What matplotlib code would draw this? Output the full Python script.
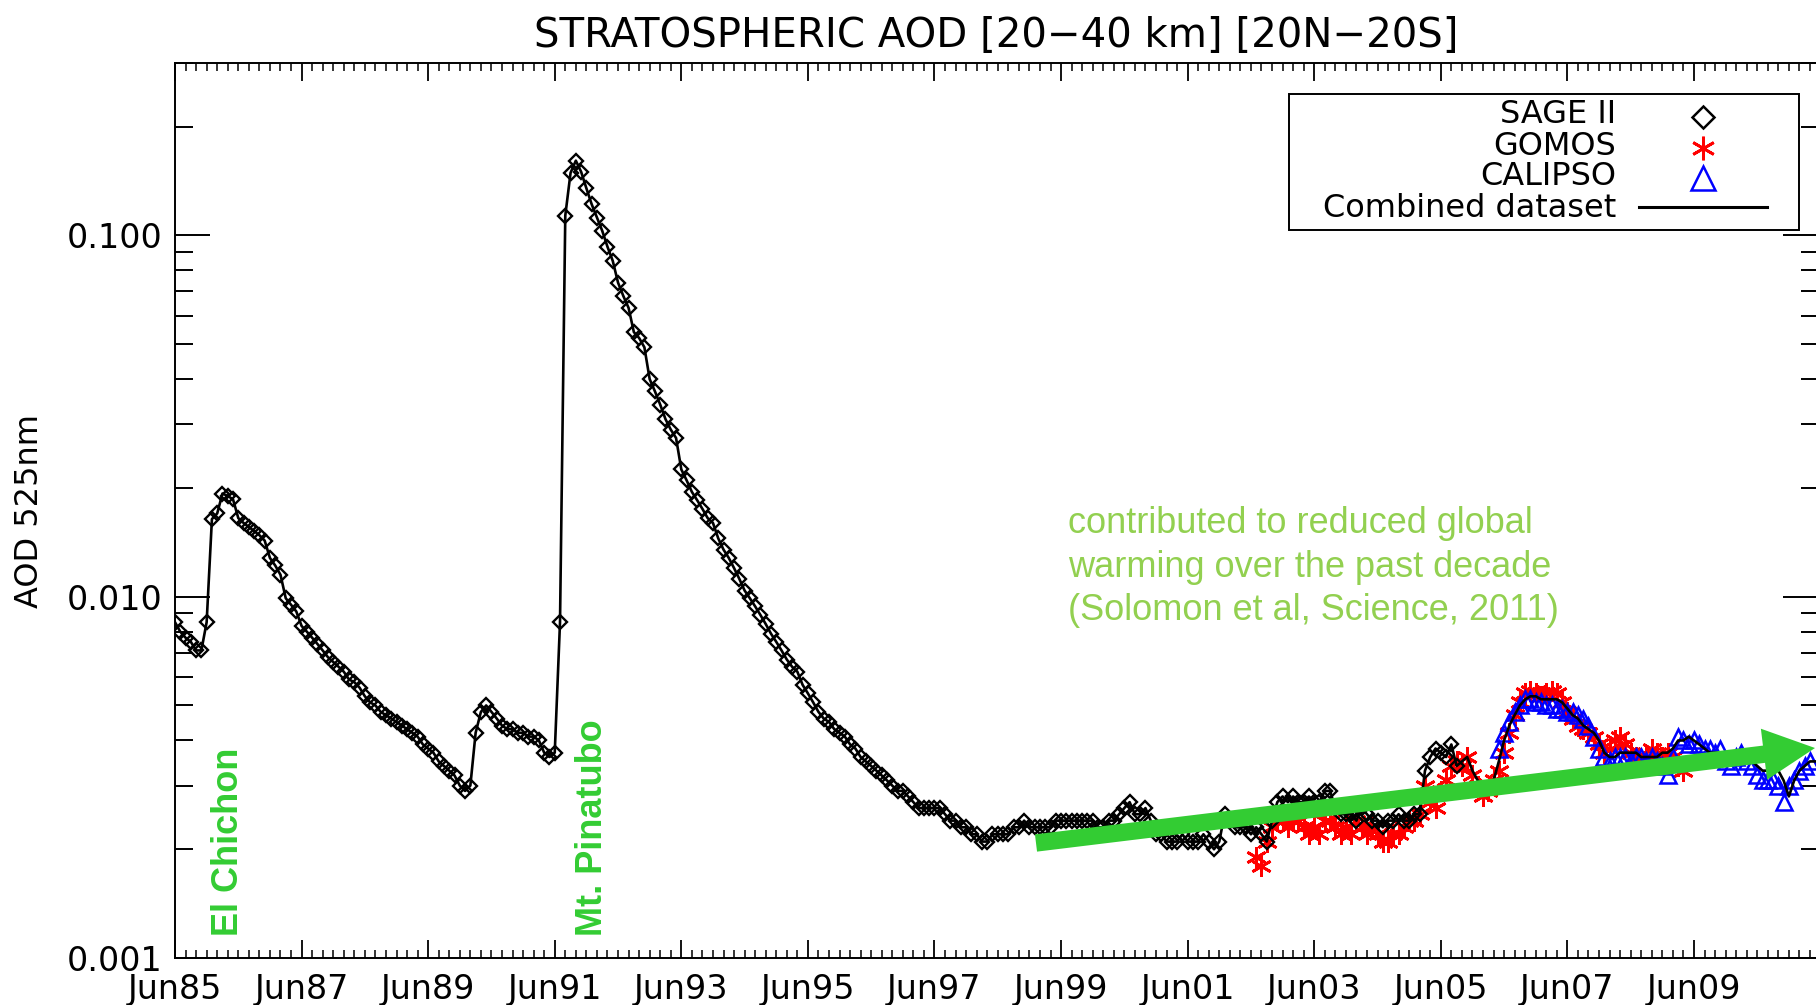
import numpy as np
import matplotlib
matplotlib.use("Agg")
import matplotlib.pyplot as plt
from matplotlib.ticker import FixedLocator, FixedFormatter, LogLocator, NullFormatter
from matplotlib.patches import Rectangle

# ---------------- data (monthly, index 0 = Jun 1985) ----------------
start_year = 1985 + 5/12.0          # Jun 1985

sage_start = 0
sage = [
    0.0085, 0.0080, 0.0077, 0.0075, 0.0071, 0.0071, 0.0085, 0.0164, 0.0170, 0.0193, 0.0190, 0.0186,
    0.0165, 0.0160, 0.0156, 0.0152, 0.0148, 0.0143, 0.0128, 0.0122, 0.0115, 0.0099, 0.0095, 0.0091,
    0.0083, 0.0080, 0.0077, 0.0074, 0.0071, 0.0068, 0.0066, 0.0064, 0.0062, 0.0059, 0.0058, 0.0056,
    0.0053, 0.0051, 0.0050, 0.0048, 0.0047, 0.0046, 0.0045, 0.0044, 0.0043, 0.0042, 0.0041, 0.0039,
    0.0038, 0.0037, 0.0035, 0.0034, 0.0033, 0.0032, 0.0030, 0.0029, 0.0030, 0.0042, 0.0048, 0.0050,
    0.0048, 0.0046, 0.0044, 0.0043, 0.0043, 0.0042, 0.0042, 0.0041, 0.0041, 0.0040, 0.0037, 0.0036,
    0.0037, 0.0085, 0.1135, 0.149, 0.161, 0.150, 0.135, 0.122, 0.112, 0.103, 0.093, 0.085,
    0.074, 0.068, 0.063, 0.054, 0.052, 0.049, 0.040, 0.037, 0.034, 0.031, 0.029, 0.0275,
    0.0225, 0.021, 0.0195, 0.0185, 0.0175, 0.0165, 0.0160, 0.0145, 0.0135, 0.0128, 0.0120, 0.0112,
    0.0104, 0.0099, 0.0094, 0.0089, 0.0084, 0.0079, 0.0075, 0.0071, 0.0067, 0.0064, 0.0062, 0.0057,
    0.0054, 0.0051, 0.0048, 0.0046, 0.0045, 0.0043, 0.0042, 0.0041, 0.0039, 0.0038, 0.0036, 0.0035,
    0.0034, 0.0033, 0.0032, 0.0031, 0.0030, 0.0029, 0.0029, 0.0028, 0.0027, 0.0026, 0.0026, 0.0026,
    0.0026, 0.0026, 0.0025, 0.0024, 0.0024, 0.0023, 0.0023, 0.0022, 0.0022, 0.0021, 0.0021, 0.0022,
    0.0022, 0.0022, 0.0022, 0.0023, 0.0023, 0.0024, 0.0023, 0.0023, 0.0023, 0.0023, 0.0023, 0.0024,
    0.0024, 0.0024, 0.0024, 0.0024, 0.0024, 0.0024, 0.0024, 0.0023, 0.0023, 0.0024, 0.0024, 0.0025,
    0.0026, 0.0027, 0.0025, 0.0025, 0.0026, 0.0024, 0.0022, 0.0022, 0.0021, 0.0021, 0.0021, 0.0022,
    0.0021, 0.0021, 0.0021, 0.0022, 0.0021, 0.0020, 0.0021, 0.0025, 0.0024, 0.0023, 0.0023, 0.0023,
    0.0022, 0.0023, 0.0022, 0.0021, 0.0024, 0.0027, 0.0028, 0.0027, 0.0028, 0.0027, 0.0027, 0.0028,
    0.0027, 0.0027, 0.0029, 0.0029, 0.0026, 0.0025, 0.0025, 0.0025, 0.0024, 0.0026, 0.0025, 0.0024,
    0.0024, 0.0023, 0.0024, 0.0024, 0.0025, 0.0024, 0.0024, 0.0025, 0.0025, 0.0033, 0.0036, 0.0038,
    0.0037, 0.0036, 0.0039, 0.0034,
]

gomos_start = 205
gomos = [
    0.0019, 0.0018, 0.0021, 0.0023, 0.0024, 0.0024, 0.0023, 0.0024, 0.0024, 0.0023, 0.0022, 0.0023,
    0.0022, 0.0024, 0.0024, 0.0023, 0.0022, 0.0023, 0.0022, 0.0024, 0.0023, 0.0022, 0.0023, 0.0022,
    0.0021, 0.0021, 0.0022, 0.0022, 0.0023, 0.0024, 0.0024, 0.0025, 0.0030, 0.0027, 0.0026, 0.0029,
    0.0031, 0.0034, 0.0035, 0.0034, 0.0036, 0.0032, 0.0030, 0.0028, 0.0029, 0.0031, 0.0033, 0.0037,
    0.0042, 0.0047, 0.0051, 0.0054, 0.0055, 0.0054, 0.0053, 0.0054, 0.0055, 0.0054, 0.0051, 0.0048,
    0.0046, 0.0044, 0.0043, 0.0042, 0.0041, 0.0039, 0.0037, 0.0038, 0.0040, 0.0041, 0.0039, 0.0037,
    0.0036, 0.0034, 0.0036, 0.0038, 0.0037, 0.0036, 0.0037, 0.0036, 0.0034, 0.0033,
]

calipso_start = 251
calipso = [
    0.0038, 0.0042, 0.0045, 0.0048, 0.0050, 0.0052, 0.0052, 0.0051, 0.0051, 0.0050, 0.0050, 0.0049,
    0.0049, 0.0048, 0.0048, 0.0047, 0.0046, 0.0044, 0.0041, 0.0038, 0.0036, 0.0035, 0.0036, 0.0036,
    0.0036, 0.0035, 0.0036, 0.0036, 0.0035, 0.0036, 0.0035, 0.0034, 0.0032, 0.0036, 0.0041, 0.0040,
    0.0039, 0.0040, 0.0039, 0.0038, 0.0038, 0.0037, 0.0038, 0.0035, 0.0034, 0.0036, 0.0037, 0.0035,
    0.0034, 0.0032, 0.0031, 0.0031, 0.0031, 0.0030, 0.0027, 0.0030, 0.0031, 0.0033, 0.0034, 0.0035,
]

# combined dataset after the end of SAGE II
combined_after = [
    0.0035, 0.0036, 0.0033, 0.0031, 0.0030, 0.0030, 0.0031, 0.0035, 0.0040, 0.0044, 0.0047, 0.0050,
    0.0052, 0.0053, 0.0053, 0.0052, 0.0052, 0.0052, 0.0052, 0.0051, 0.0049, 0.0047, 0.0046, 0.0044,
    0.0043, 0.0042, 0.0040, 0.0037, 0.0036, 0.0036, 0.0037, 0.0037, 0.0037, 0.0037, 0.0036, 0.0036,
    0.0036, 0.0036, 0.0037, 0.0037, 0.0038, 0.0040, 0.0040, 0.0041, 0.0040, 0.0039, 0.0038, 0.0037,
    0.0037, 0.0037, 0.0037, 0.0036, 0.0036, 0.0036, 0.0036, 0.0035, 0.0034, 0.0033, 0.0033, 0.0033,
    0.0033, 0.0031, 0.0028, 0.0031, 0.0033, 0.0034, 0.0035, 0.0035,
]

xtick_labels = ["Jun85", "Jun87", "Jun89", "Jun91", "Jun93", "Jun95", "Jun97",
                "Jun99", "Jun01", "Jun03", "Jun05", "Jun07", "Jun09"]
ytick_values = [0.001, 0.01, 0.1]
ytick_labels = ["0.001", "0.010", "0.100"]
legend_labels = ["SAGE II", "GOMOS", "CALIPSO", "Combined dataset"]


def month_times(first_index, n):
    return start_year + (first_index + np.arange(n)) / 12.0


t_sage = month_times(sage_start, len(sage))
t_gomos = month_times(gomos_start, len(gomos))
t_cal = month_times(calipso_start, len(calipso))
combined = list(sage) + list(combined_after)
t_comb = month_times(0, len(combined))

# ---------------- figure ----------------
W, H = 1816, 1005
fig = plt.figure(figsize=(W / 100, H / 100), dpi=100)
ax_l, ax_r, ax_t, ax_b = 175, 1818, 63, 958
ax = fig.add_axes([ax_l / W, 1 - ax_b / H, (ax_r - ax_l) / W, (ax_b - ax_t) / H])
ax.set_yscale("log")
ax.set_ylim(0.001, 0.3)
ax.set_xlim(start_year, start_year + (ax_r - ax_l) / 63.29)

ax.plot(t_gomos, gomos, ls="none", marker=(6, 2, 0), ms=15, mew=2.0,
        color="#ff0000", zorder=2)
ax.plot(t_cal, calipso, ls="none", marker="^", ms=11, mfc="none", mec="#0000ff",
        mew=1.8, zorder=3)
ax.plot(t_sage, sage, ls="none", marker="D", ms=7, mfc="none", mec="black",
        mew=1.7, zorder=4)
ax.plot(t_comb, combined, "-", color="black", lw=1.9, zorder=5)

# ticks
ax.xaxis.set_major_locator(FixedLocator(start_year + 2 * np.arange(len(xtick_labels))))
ax.xaxis.set_major_formatter(FixedFormatter(xtick_labels))
ax.xaxis.set_minor_locator(FixedLocator(start_year + np.arange(0, 160) / 6.0))
ax.yaxis.set_major_locator(FixedLocator(ytick_values))
ax.yaxis.set_major_formatter(FixedFormatter(ytick_labels))
ax.yaxis.set_minor_locator(LogLocator(base=10, subs=np.arange(2, 10)))
ax.yaxis.set_minor_formatter(NullFormatter())

ax.tick_params(which="both", direction="in", top=True, right=True)
ax.tick_params(axis="x", which="major", length=13, width=1.3, labelsize=24, pad=11)
ax.tick_params(axis="x", which="minor", length=5.8, width=1.1)
ax.tick_params(axis="y", which="major", length=25, width=1.4, labelsize=24, pad=9)
ax.tick_params(axis="y", which="minor", length=12.6, width=1.4)
for s in ax.spines.values():
    s.set_linewidth(1.4)

# title and y label
fig.text(996 / W, 1 - 47 / H, "STRATOSPHERIC AOD [20\u221240 km] [20N\u221220S]",
         ha="center", va="baseline", fontsize=29)
fig.text(30 / W, 1 - 511 / H, "AOD 525nm", rotation=90, ha="center", va="center",
         fontsize=23)

# legend (drawn by hand, IDL style)
def ax_x(px):
    return (px - ax_l) / (ax_r - ax_l)


def ax_y(py):
    return 1 - (py - ax_t) / (ax_b - ax_t)


ax.add_patch(Rectangle((ax_x(1289), ax_y(230)), ax_x(1799) - ax_x(1289),
                       ax_y(94) - ax_y(230), transform=ax.transAxes,
                       facecolor="white", edgecolor="black", lw=1.4, zorder=8))
baselines = [123, 155, 185, 217]
centers = [117, 148, 178, 207]
for lab, yb in zip(legend_labels, baselines):
    ax.text(ax_x(1616), ax_y(yb), lab, transform=ax.transAxes, ha="right",
            va="baseline", fontsize=23, zorder=9)
ax.plot([ax_x(1703)], [ax_y(centers[0])], transform=ax.transAxes, ls="none",
        marker="D", ms=11, mfc="none", mec="black", mew=1.8, zorder=9, clip_on=False)
ax.plot([ax_x(1703)], [ax_y(centers[1])], transform=ax.transAxes, ls="none",
        marker=(6, 2, 0), ms=17, mew=2.0, color="#ff0000", zorder=9, clip_on=False)
ax.plot([ax_x(1703)], [ax_y(centers[2])], transform=ax.transAxes, ls="none",
        marker="^", ms=17, mfc="none", mec="#0000ff", mew=1.8, zorder=9, clip_on=False)
ax.plot([ax_x(1639), ax_x(1767)], [ax_y(centers[3])] * 2, transform=ax.transAxes,
        color="black", lw=2.2, zorder=9, clip_on=False)

# annotations
green = "#33cc33"
light_green = "#92d050"
fig.text(228 / W, 1 - 936 / H, "El Chichon", rotation=90, ha="center", va="bottom",
         fontsize=26, fontweight="bold", color=green, family="Liberation Sans")
fig.text(592 / W, 1 - 936 / H, "Mt. Pinatubo", rotation=90, ha="center", va="bottom",
         fontsize=26, fontweight="bold", color=green, family="Liberation Sans")
for line, yb in zip(["contributed to reduced global",
                     "warming over the past decade",
                     "(Solomon et al, Science, 2011)"], [533, 577, 620]):
    fig.text(1068 / W, 1 - yb / H, line, ha="left", va="baseline", fontsize=26,
             color=light_green, family="Liberation Sans")

ax.annotate("", xy=(1815, H - 748), xycoords="figure pixels",
            xytext=(1036, H - 843), textcoords="figure pixels",
            arrowprops=dict(arrowstyle="simple,head_length=37,head_width=37,tail_width=12.5",
                            mutation_scale=1, color=green, lw=0,
                            shrinkA=0, shrinkB=0),
            zorder=10)

fig.savefig("out.png", dpi=100)
